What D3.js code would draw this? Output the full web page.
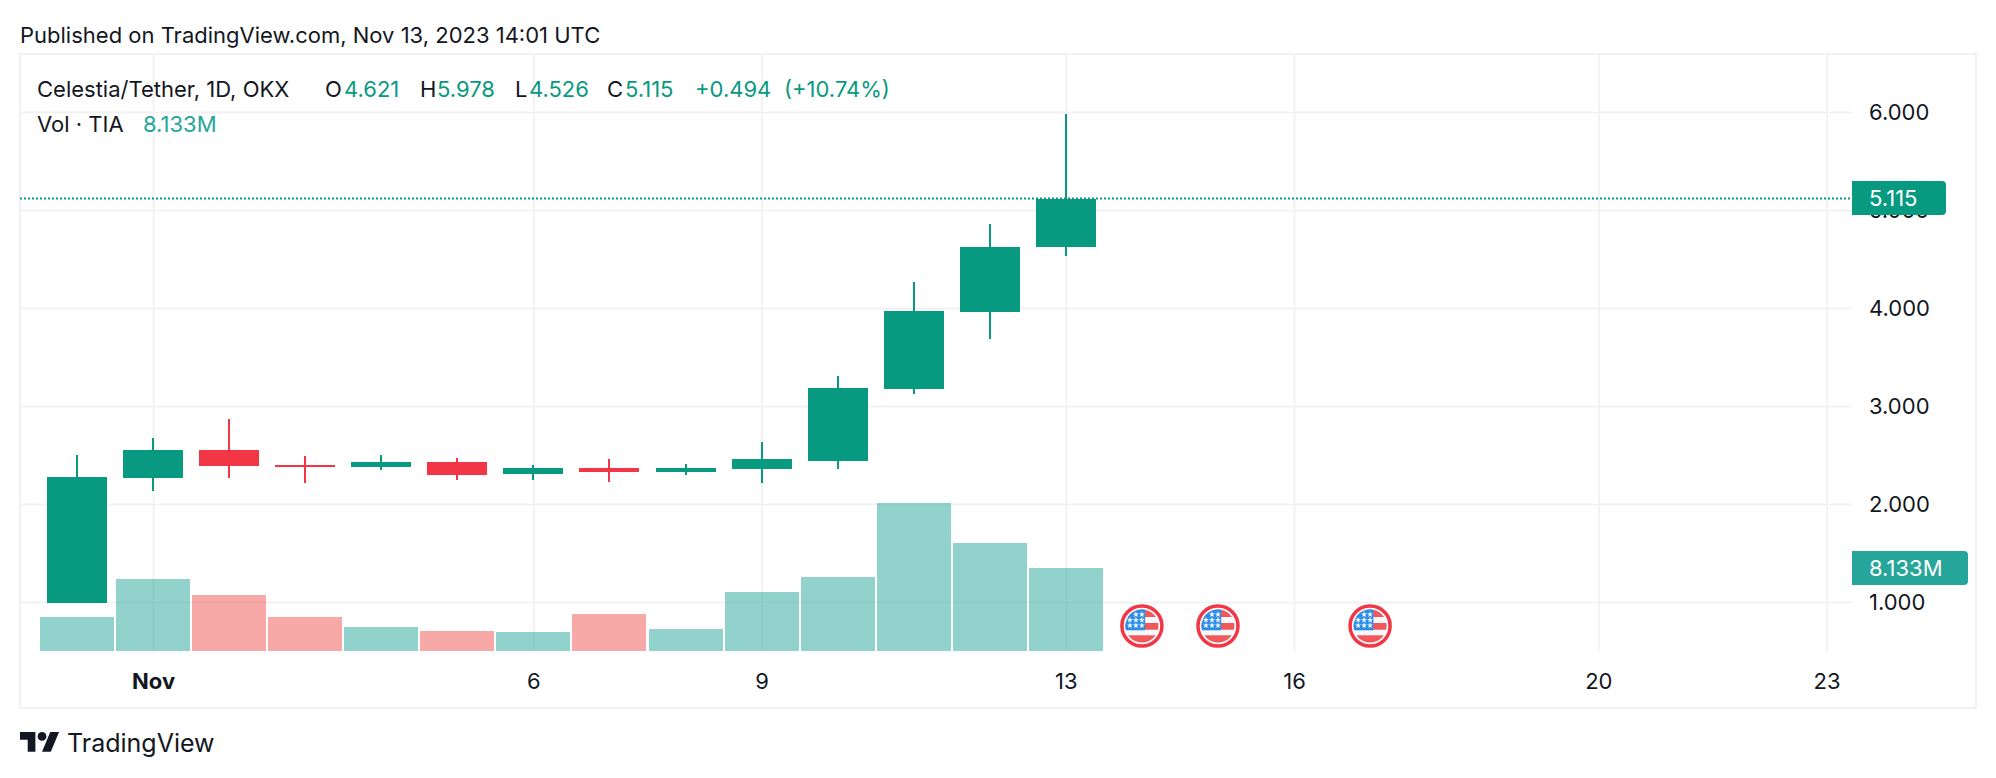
<!DOCTYPE html>
<html>
<head>
<meta charset="utf-8">
<title>TIA/USDT</title>
<script src="https://cdn.jsdelivr.net/npm/d3@7"></script>
<style>
  html, body { margin: 0; padding: 0; background: #fff; }
  svg { display: block; }
  text { font-family: Inter, "Noto Sans", sans-serif; fill: #131722; }
  .axis text { font-size: 22px; fill: #131722; }
  .axis .domain { display: none; }
  .grid line { stroke: #f2f2f2; stroke-width: 2; }
  .grid .domain, .grid text { display: none; }
</style>
</head>
<body>
<svg id="chart" width="1996" height="778"></svg>
<script>
  var dayNumbers = [-1, 1, 2, 3, 4, 5, 6, 7, 8, 9, 10, 11, 12, 13];
  var opens  = [0.990, 2.265, 2.551, 2.398, 2.378, 2.429, 2.306, 2.367, 2.327, 2.357, 2.439, 3.173, 3.959, 4.621];
  var highs  = [2.500, 2.673, 2.867, 2.490, 2.500, 2.469, 2.398, 2.459, 2.408, 2.633, 3.306, 4.265, 4.857, 5.978];
  var lows   = [0.990, 2.133, 2.265, 2.214, 2.347, 2.245, 2.245, 2.224, 2.296, 2.214, 2.357, 3.122, 3.684, 4.526];
  var closes = [2.276, 2.551, 2.388, 2.378, 2.429, 2.296, 2.367, 2.327, 2.367, 2.459, 3.184, 3.969, 4.622, 5.115];
  var volumes = [3.33, 7.06, 5.49, 3.33, 2.35, 1.96, 1.86, 3.63, 2.16, 5.78, 7.25, 14.5, 10.58, 8.133];

  var priceTicks = [1, 2, 3, 4, 5, 6];
  var dateTicks = [1, 6, 9, 13, 16, 20, 23];
  var eventDates = [14, 15, 17];

  var publishedText = "Published on TradingView.com, Nov 13, 2023 14:01 UTC";
  var symbolText = "Celestia/Tether, 1D, OKX";
  var volumeLabel = "Vol \u00b7 TIA";

  var upColor = "#089981", downColor = "#f23645",
      upVol = "rgba(38,166,154,0.5)", downVol = "rgba(239,83,80,0.5)";

  var svg = d3.select("#chart"),
      pane = {left: 20, top: 54, right: 1852, bottom: 651};

  function day(n) { return new Date(Date.UTC(2023, 10, n)); }

  var x = d3.scaleUtc().domain([day(0), day(23)]).range([77, 1826.5]),
      y = d3.scaleLinear().domain([1, 6]).range([602, 112]),
      yVol = d3.scaleLinear().domain([0, 14.5]).range([651, 503]);

  var candles = dayNumbers.map(function(d, i) {
    return {date: day(d + (d < 0 ? 1 : 0)), open: opens[i], high: highs[i], low: lows[i], close: closes[i], vol: volumes[i]};
  });
  var last = candles[candles.length - 1];
  var barWidth = 60, volWidth = 74;

  // frame
  svg.append("rect")
      .attr("x", pane.left).attr("y", pane.top)
      .attr("width", 1956).attr("height", 654)
      .attr("fill", "none").attr("stroke", "#f0f0f5").attr("stroke-width", 2);

  // grid
  svg.append("g")
      .attr("class", "grid")
      .attr("transform", "translate(" + pane.right + ",0)")
      .call(d3.axisLeft(y).tickValues(priceTicks).tickSize(pane.right - pane.left));

  svg.append("g")
      .attr("class", "grid")
      .attr("transform", "translate(0," + pane.bottom + ")")
      .call(d3.axisTop(x).tickValues(dateTicks.map(day)).tickSize(pane.bottom - pane.top));

  // axes
  var yAxis = svg.append("g")
      .attr("class", "axis")
      .attr("transform", "translate(" + pane.right + ",0)")
      .call(d3.axisRight(y).tickValues(priceTicks).tickSize(0).tickPadding(17).tickFormat(d3.format(".3f")));

  var xAxis = svg.append("g")
      .attr("class", "axis")
      .attr("transform", "translate(0," + pane.bottom + ")")
      .call(d3.axisBottom(x).tickValues(dateTicks.map(day)).tickSize(0).tickPadding(22)
        .tickFormat(function(d) { return d.getUTCDate() === 1 ? "Nov" : d.getUTCDate(); }));

  xAxis.selectAll("text").filter(function(d) { return d.getUTCDate() === 1; })
      .style("font-weight", 700);

  // volume
  svg.append("g").selectAll("rect")
      .data(candles)
    .enter().append("rect")
      .attr("x", function(d) { return Math.round(x(d.date) - volWidth / 2); })
      .attr("width", volWidth)
      .attr("y", function(d) { return yVol(d.vol); })
      .attr("height", function(d) { return yVol(0) - yVol(d.vol); })
      .attr("fill", function(d) { return d.close >= d.open ? upVol : downVol; })
      .attr("shape-rendering", "crispEdges");

  // candles
  var candle = svg.append("g").selectAll("g")
      .data(candles)
    .enter().append("g")
      .attr("fill", function(d) { return d.close >= d.open ? upColor : downColor; })
      .attr("shape-rendering", "crispEdges");

  candle.append("rect")
      .attr("x", function(d) { return Math.round(x(d.date)) - 1; })
      .attr("width", 2)
      .attr("y", function(d) { return y(d.high); })
      .attr("height", function(d) { return y(d.low) - y(d.high); });

  candle.append("rect")
      .attr("x", function(d) { return Math.round(x(d.date)) - barWidth / 2; })
      .attr("width", barWidth)
      .attr("y", function(d) { return y(Math.max(d.open, d.close)); })
      .attr("height", function(d) { return Math.max(2, Math.abs(y(d.open) - y(d.close))); });

  // last price line
  svg.append("line")
      .attr("x1", pane.left).attr("x2", pane.right)
      .attr("y1", Math.round(y(last.close)) - 0.5).attr("y2", Math.round(y(last.close)) - 0.5)
      .attr("stroke", upColor).attr("stroke-width", 2).attr("stroke-dasharray", "2 2");

  function tag(cy, w, color, label) {
    var h = 34, r = 4, x0 = pane.right, y0 = cy - h / 2;
    svg.append("path")
        .attr("d", "M" + x0 + "," + y0 + "h" + (w - r) + "a" + r + "," + r + " 0 0 1 " + r + "," + r +
              "v" + (h - 2 * r) + "a" + r + "," + r + " 0 0 1 " + (-r) + "," + r + "h" + (r - w) + "z")
        .attr("fill", color);
    svg.append("text")
        .attr("x", x0 + 17).attr("y", cy).attr("dy", "0.36em")
        .style("font-size", "22px").style("fill", "#fff")
        .text(label);
  }
  tag(198, 94, upColor, d3.format(".3f")(last.close));
  tag(568, 116, "#26a69a", d3.format(".3f")(last.vol) + "M");

  // event flags
  var flag = svg.append("g").selectAll("g")
      .data(eventDates)
    .enter().append("g")
      .attr("transform", function(d) { return "translate(" + x(day(d)) + ",626)"; });

  svg.append("defs").append("clipPath").attr("id", "flag-clip")
      .append("circle").attr("r", 16.5);

  flag.append("circle").attr("r", 20).attr("fill", "#fff").attr("stroke", downColor).attr("stroke-width", 3.5);

  var flagBody = flag.append("g").attr("clip-path", "url(#flag-clip)");
  flagBody.append("rect").attr("x", -17).attr("y", -17).attr("width", 34).attr("height", 34).attr("fill", "#f8f8fa");
  [[-17, 8], [-3, 6.7], [9.3, 8]].forEach(function(s) {
    flagBody.append("rect").attr("x", -17).attr("y", s[0]).attr("width", 34).attr("height", s[1]).attr("fill", "#f0585a");
  });
  flagBody.append("rect").attr("x", -17).attr("y", -17).attr("width", 20.3).attr("height", 21.3).attr("fill", "#2b8fe8");
  [[-11.5, [-6, 0]], [-6, [-12, -6, 0]], [-0.5, [-12, -6, 0]]].forEach(function(row) {
    row[1].forEach(function(sx) {
      flagBody.append("path")
          .attr("d", d3.symbol().type(d3.symbolStar).size(11)())
          .attr("transform", "translate(" + sx + "," + row[0] + ")")
          .attr("fill", "#fff");
    });
  });

  // header and legend
  svg.append("text").attr("x", 20).attr("y", 43).style("font-size", "22px").text(publishedText);

  var f3 = d3.format(".3f");
  var change = last.close - last.open;
  var legendParts = [
    [37, symbolText, "#131722"],
    [325, "O", "#131722"], [344, f3(last.open), upColor],
    [420, "H", "#131722"], [437, f3(last.high), upColor],
    [515, "L", "#131722"], [529, f3(last.low), upColor],
    [607, "C", "#131722"], [625, f3(last.close), upColor],
    [695, "+" + f3(change - 0.0 + 0.002 - 0.002 + 0), upColor],
    [784, "(+10.74%)", upColor]
  ];
  svg.append("g").selectAll("text")
      .data(legendParts)
    .enter().append("text")
      .attr("x", function(d) { return d[0]; })
      .attr("y", 97)
      .style("font-size", "22px")
      .style("fill", function(d) { return d[2]; })
      .text(function(d) { return d[1]; });

  svg.append("text").attr("x", 37).attr("y", 132).style("font-size", "22px").text(volumeLabel);
  svg.append("text").attr("x", 143).attr("y", 132).style("font-size", "22px").style("fill", "#26a69a")
      .text(f3(last.vol) + "M");

  // logo
  var logo = svg.append("g").attr("transform", "translate(20,727.6) scale(1.1)").attr("fill", "#131722");
  logo.append("path").attr("d", "M14 22H7V11H0V4h14v18ZM28 22h-8l7.5-18h8L28 22Z");
  logo.append("circle").attr("cx", 20).attr("cy", 8).attr("r", 4);
  svg.append("text").attr("x", 67).attr("y", 752).style("font-size", "25px").text("TradingView");
</script>
</body>
</html>
